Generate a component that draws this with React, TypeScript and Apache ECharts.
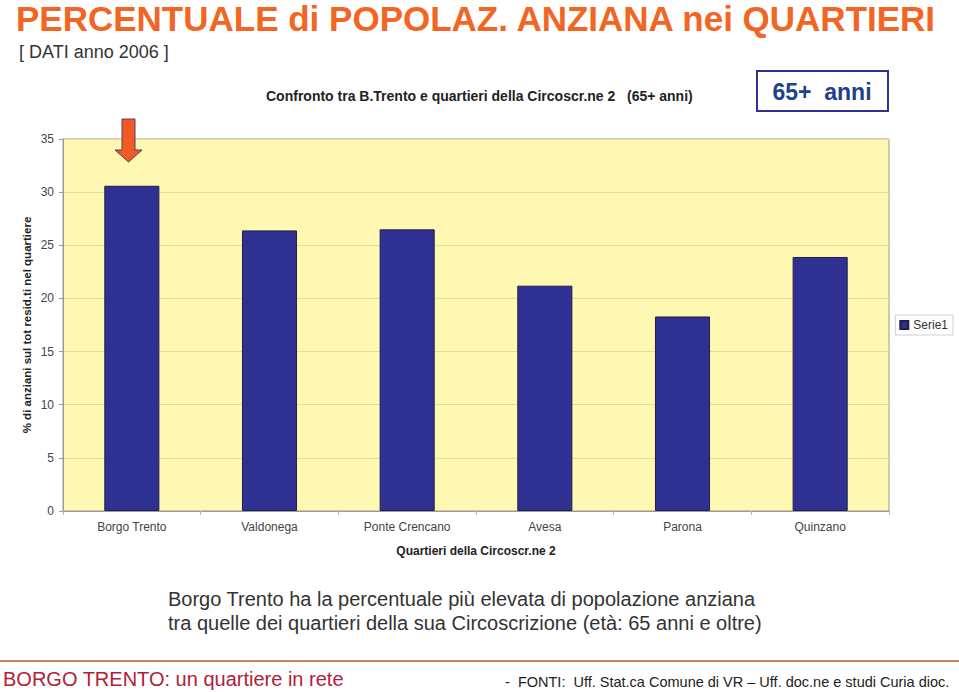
import React, { useEffect, useRef } from "react";
import * as echarts from "echarts";

const categories = ["Borgo Trento", "Valdonega", "Ponte Crencano", "Avesa", "Parona", "Quinzano"];
const values = [30.6, 26.4, 26.5, 21.2, 18.3, 23.9];
const seriesName = "Serie1";
const yMin = 0;
const yMax = 35;
const yStep = 5;

const FONT = "Liberation Sans, Arial, sans-serif";

export default function App() {
  const ref = useRef<HTMLDivElement>(null);
  useEffect(() => {
    if (!ref.current) return;
    const chart = echarts.init(ref.current, null, { renderer: "svg" });
    chart.setOption({
      animation: false,
      backgroundColor: "#ffffff",
      textStyle: { fontFamily: FONT },
      grid: {
        left: 63,
        right: 70,
        top: 139,
        bottom: 181,
        show: true,
        backgroundColor: "#FFF8B2",
        borderColor: "#9a9a88",
        borderWidth: 1,
      },
      legend: {
        data: [seriesName],
        right: 6,
        top: 315,
        orient: "vertical",
        icon: "rect",
        itemWidth: 8,
        itemHeight: 8,
        itemGap: 4,
        padding: [4, 5, 4, 4],
        borderColor: "#d0d0d0",
        borderWidth: 1,
        backgroundColor: "#ffffff",
        textStyle: { fontSize: 12, color: "#333", fontFamily: FONT },
      },
      xAxis: {
        type: "category",
        data: categories,
        name: "Quartieri della Circoscr.ne 2",
        nameLocation: "middle",
        nameGap: 34,
        nameTextStyle: { fontSize: 12, fontWeight: "bold", color: "#222", fontFamily: FONT },
        axisLine: { lineStyle: { color: "#9a9a9a" } },
        axisTick: { show: true, length: 4, lineStyle: { color: "#bbbbbb" } },
        axisLabel: { fontSize: 12, color: "#444", margin: 10, fontFamily: FONT },
      },
      yAxis: {
        type: "value",
        min: yMin,
        max: yMax,
        interval: yStep,
        name: "% di anziani sul tot resid.ti nel quartiere",
        nameLocation: "middle",
        nameGap: 30,
        nameMoveOverlap: false,
        nameTextStyle: { fontSize: 11.5, fontWeight: "bold", color: "#222", fontFamily: FONT },
        axisLine: { show: true, lineStyle: { color: "#9a9a9a" } },
        axisTick: { show: true, length: 4, lineStyle: { color: "#9a9a9a" } },
        axisLabel: { fontSize: 12, color: "#444", margin: 9, fontFamily: FONT },
        splitLine: { show: true, lineStyle: { color: "#E6DD9A", width: 1 } },
      },
      series: [
        {
          name: seriesName,
          type: "bar",
          data: values,
          barWidth: "40%",
          itemStyle: { color: "#2E3192", borderColor: "#20204a", borderWidth: 1 },
        },
      ],
      graphic: [
        {
          type: "text",
          x: 16,
          y: 1,
          style: {
            text: "PERCENTUALE di POPOLAZ. ANZIANA nei QUARTIERI",
            fontSize: 35,
            fontWeight: "bold",
            fill: "#F26522",
            fontFamily: FONT,
            verticalAlign: "top",
          },
        },
        {
          type: "text",
          left: 19,
          top: 43,
          style: {
            text: "[ DATI anno 2006 ]",
            fontSize: 18,
            fill: "#333",
            fontFamily: FONT,
          },
        },
        {
          type: "text",
          left: 266,
          top: 89,
          style: {
            text: "Confronto tra B.Trento e quartieri della Circoscr.ne 2   (65+ anni)",
            fontSize: 14,
            fontWeight: "bold",
            fill: "#222",
            fontFamily: FONT,
          },
        },
        {
          type: "rect",
          shape: { x: 757, y: 71, width: 131, height: 40 },
          style: { fill: "#ffffff", stroke: "#2E3192", lineWidth: 2 },
        },
        {
          type: "text",
          x: 822,
          y: 92,
          style: {
            text: "65+  anni",
            fontSize: 23,
            fontWeight: "bold",
            fill: "#1F3F8F",
            align: "center",
            verticalAlign: "middle",
            fontFamily: FONT,
          },
        },
        {
          type: "polygon",
          z: 100,
          shape: {
            points: [
              [122, 119],
              [135, 119],
              [135, 150],
              [142, 150],
              [128.5, 162],
              [115, 150],
              [122, 150],
            ],
          },
          style: { fill: "#F15A24", stroke: "#5a3a6a", lineWidth: 1 },
        },
        {
          type: "text",
          left: 168,
          top: 587,
          style: {
            text: "Borgo Trento ha la percentuale più elevata di popolazione anziana\ntra quelle dei quartieri della sua Circoscrizione (età: 65 anni e oltre)",
            fontSize: 20,
            lineHeight: 24,
            fill: "#333",
            fontFamily: FONT,
          },
        },
        {
          type: "line",
          shape: { x1: 0, y1: 661, x2: 959, y2: 661 },
          style: { stroke: "#C8826A", lineWidth: 2 },
        },
        {
          type: "text",
          left: 3,
          top: 669,
          style: {
            text: "BORGO TRENTO: un quartiere in rete",
            fontSize: 20,
            fill: "#B0203A",
            fontFamily: FONT,
          },
        },
        {
          type: "text",
          left: 505,
          top: 674,
          style: {
            text: "-  FONTI:  Uff. Stat.ca Comune di VR – Uff. doc.ne e studi Curia dioc.",
            fontSize: 14.5,
            fill: "#222",
            fontFamily: FONT,
          },
        },
      ],
    });
    return () => chart.dispose();
  }, []);
  return <div ref={ref} style={{ width: 959, height: 692, position: "absolute", left: 0, top: 0 }} />;
}
